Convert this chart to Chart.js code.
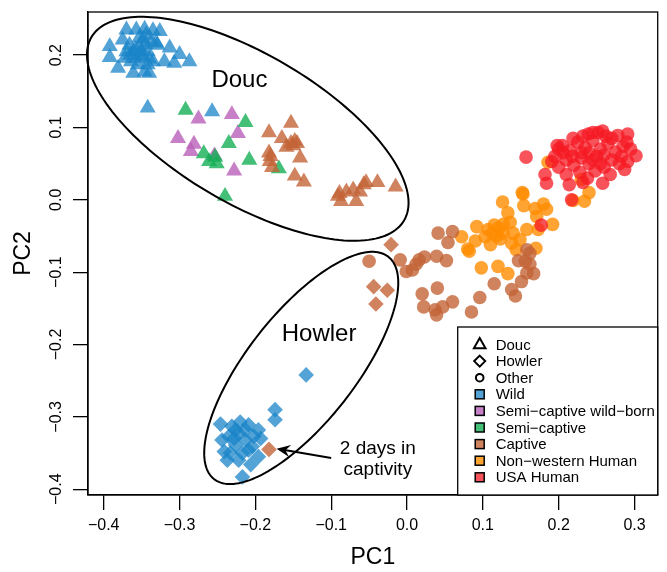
<!DOCTYPE html>
<html lang="en">
<head>
<meta charset="UTF-8">
<title>PCA – Douc / Howler / Other</title>
<script src="https://cdn.jsdelivr.net/npm/chart.js@4.4.1/dist/chart.umd.min.js"></script>
<style>
  html, body { margin: 0; padding: 0; background: #fff; }
  #wrap { width: 667px; height: 572px; }
</style>
</head>
<body>
<div id="wrap"><canvas id="pca" width="667" height="572"></canvas></div>
<script>
// ---- data (PC1, PC2) ----
const xTicks = [-0.4, -0.3, -0.2, -0.1, 0.0, 0.1, 0.2, 0.3];
const yTicks = [-0.4, -0.3, -0.2, -0.1, 0.0, 0.1, 0.2];

const doucWild = [
  [-0.370,0.235],[-0.357,0.235],[-0.346,0.236],[-0.335,0.234],[-0.326,0.233],
  [-0.392,0.212],[-0.392,0.197],[-0.381,0.182],[-0.375,0.221],[-0.370,0.205],
  [-0.364,0.191],[-0.361,0.175],[-0.353,0.212],[-0.348,0.198],[-0.346,0.177],
  [-0.340,0.175],[-0.342,0.205],[-0.331,0.217],[-0.329,0.214],[-0.335,0.191],
  [-0.313,0.210],[-0.320,0.191],[-0.307,0.189],[-0.300,0.201],[-0.287,0.191],
  [-0.357,0.196],[-0.366,0.214],[-0.353,0.224],[-0.344,0.228],[-0.337,0.219],
  [-0.361,0.205],[-0.355,0.187],[-0.342,0.187],[-0.372,0.196],[-0.350,0.205],
  [-0.345,0.215],[-0.358,0.208],[-0.340,0.195],[-0.352,0.200],[-0.365,0.200],
  [-0.348,0.222],[-0.342,0.127],[-0.257,0.122]
];
const doucSemiWildBorn = [
  [-0.275,0.112],[-0.231,0.118],[-0.223,0.092],[-0.302,0.085],
  [-0.281,0.077],[-0.285,0.067],[-0.254,0.061],[-0.228,0.040]
];
const doucSemiCaptive = [
  [-0.292,0.124],[-0.213,0.107],[-0.235,0.078],[-0.268,0.064],[-0.261,0.053],
  [-0.251,0.050],[-0.253,0.059],[-0.208,0.055],[-0.169,0.043],[-0.240,0.005]
];
const doucCaptive = [
  [-0.153,0.106],[-0.182,0.093],[-0.165,0.085],[-0.153,0.078],[-0.148,0.081],
  [-0.159,0.073],[-0.150,0.075],[-0.145,0.078],[-0.182,0.065],[-0.180,0.060],
  [-0.178,0.045],[-0.141,0.058],[-0.148,0.033],[-0.136,0.025],[-0.181,0.053],
  [-0.039,0.024],[-0.054,0.024],[-0.057,0.021],[-0.015,0.018],[-0.071,0.014],
  [-0.080,0.011],[-0.091,0.005],[-0.087,-0.002],[-0.067,-0.002],[-0.089,0.009],
  [-0.062,0.011]
];
const howlerWild = [
  [-0.174,-0.290],[-0.174,-0.304],[-0.133,-0.242],[-0.246,-0.310],[-0.231,-0.313],
  [-0.220,-0.307],[-0.209,-0.311],[-0.196,-0.318],[-0.193,-0.330],[-0.235,-0.327],
  [-0.222,-0.323],[-0.213,-0.332],[-0.226,-0.339],[-0.244,-0.332],[-0.204,-0.341],
  [-0.196,-0.355],[-0.206,-0.366],[-0.217,-0.383],[-0.237,-0.360],[-0.233,-0.350],
  [-0.217,-0.350],[-0.222,-0.360],[-0.241,-0.348],[-0.213,-0.318],[-0.226,-0.318],
  [-0.209,-0.346],[-0.228,-0.330],[-0.202,-0.327]
];
const howlerCaptive = [
  [-0.021,-0.062],[-0.044,-0.120],[-0.026,-0.125],[-0.041,-0.144],[-0.182,-0.345]
];
const otherCaptive = [
  [-0.050,-0.085],[-0.009,-0.083],[-0.001,-0.099],[0.007,-0.097],[0.016,-0.083],
  [0.023,-0.079],[0.039,-0.078],[0.052,-0.084],[0.041,-0.046],[0.060,-0.044],
  [0.054,-0.059],[0.020,-0.130],[0.040,-0.122],[0.022,-0.148],[0.037,-0.152],
  [0.047,-0.148],[0.039,-0.159],[0.060,-0.141],[0.085,-0.155],[0.096,-0.135],
  [0.115,-0.116],[0.138,-0.124],[0.143,-0.133],[0.151,-0.113],[0.158,-0.101],
  [0.167,-0.102],[0.147,-0.084],[0.156,-0.085],[0.162,-0.089],[0.158,-0.069],
  [0.162,-0.074],[0.012,-0.089]
];
const nonWesternHuman = [
  [0.153,0.008],[0.126,-0.003],[0.154,-0.008],[0.169,-0.012],[0.180,-0.006],
  [0.184,-0.013],[0.171,-0.023],[0.133,-0.018],[0.136,-0.031],[0.127,-0.034],
  [0.092,-0.037],[0.107,-0.041],[0.121,-0.039],[0.158,-0.041],[0.173,-0.041],
  [0.192,-0.034],[0.072,-0.051],[0.090,-0.057],[0.103,-0.051],[0.110,-0.062],
  [0.123,-0.054],[0.140,-0.046],[0.149,-0.055],[0.138,-0.060],[0.082,-0.071],
  [0.080,-0.068],[0.144,-0.069],[0.170,-0.067],[0.098,-0.094],[0.120,-0.092],
  [0.133,-0.102],[0.113,-0.046],[0.127,-0.046],[0.115,-0.035],[0.118,-0.050],
  [0.186,0.052],[0.230,0.028],[0.240,0.010],[0.219,-0.001],[0.234,-0.002],
  [0.152,0.010]
];
const usaHuman = [
  [0.157,0.059],[0.198,0.075],[0.219,0.085],[0.239,0.091],[0.245,0.093],
  [0.258,0.095],[0.278,0.089],[0.291,0.091],[0.302,0.061],[0.291,0.053],
  [0.287,0.042],[0.258,0.023],[0.232,0.024],[0.214,0.021],[0.184,0.023],
  [0.182,0.035],[0.191,0.053],[0.217,0.000],[0.206,0.065],[0.177,-0.035],
  [0.205,0.075],[0.215,0.068],[0.225,0.080],[0.235,0.072],[0.245,0.082],
  [0.255,0.070],[0.265,0.078],[0.275,0.066],[0.285,0.074],[0.295,0.070],
  [0.210,0.055],[0.220,0.048],[0.230,0.058],[0.240,0.050],[0.250,0.060],
  [0.260,0.045],[0.270,0.055],[0.280,0.050],[0.200,0.045],[0.195,0.060],
  [0.228,0.038],[0.248,0.040],[0.262,0.088],[0.252,0.093],[0.232,0.088],
  [0.240,0.065],[0.260,0.062],[0.270,0.085],[0.210,0.035],[0.238,0.030],
  [0.268,0.035],[0.283,0.060],[0.290,0.080],[0.218,0.060],[0.245,0.055],
  [0.255,0.050],[0.200,0.070],[0.230,0.065]
];

const shapeNames = ['Douc', 'Howler', 'Other'];
const groupNames = ['Wild', 'Semi\u2212captive wild\u2212born', 'Semi\u2212captive', 'Captive', 'Non\u2212western Human', 'USA Human'];

// ---- styles ----
const FONT = '"Liberation Sans", Arial, Helvetica, sans-serif';
const groupColors = {
  'Wild': 'rgba(25,132,200,0.75)',
  'Semi\u2212captive wild\u2212born': 'rgba(185,95,185,0.8)',
  'Semi\u2212captive': 'rgba(20,175,85,0.8)',
  'Captive': 'rgba(195,100,55,0.8)',
  'Non\u2212western Human': 'rgba(255,140,0,0.8)',
  'USA Human': 'rgba(245,25,35,0.75)'
};
const shapeStyle = {
  Douc: { pointStyle: 'triangle', radius: 9.3 },
  Howler: { pointStyle: 'rectRot', radius: 7.8 },
  Other: { pointStyle: 'circle', radius: 6.8 }
};

const xMin = -0.4207, xMax = 0.3306;
const yMin = -0.408, yMax = 0.2596;

// ellipses given as centre + two conjugate half-axes, in data units
const ellipses = [
  { cx: -0.210, cy: 0.0982, u: [0.2063, -0.1264], v: [-0.0490, -0.0894] },
  { cx: -0.1395, cy: -0.2324, u: [0.1151, 0.1535], v: [0.0559, -0.0468] }
];
const labels = [
  { text: 'Douc', x: -0.221, y: 0.165, size: 24 },
  { text: 'Howler', x: -0.116, y: -0.186, size: 24 },
  { text: '2 days in', x: -0.0385, y: -0.344, size: 19 },
  { text: 'captivity', x: -0.0385, y: -0.373, size: 19 }
];
const arrow = { from: [-0.100, -0.357], to: [-0.172, -0.344] };

function mk(label, pts, shape, group) {
  const s = shapeStyle[shape];
  return {
    label: label,
    data: pts.map(p => ({ x: p[0], y: p[1] })),
    pointStyle: s.pointStyle,
    pointRadius: s.radius,
    pointBorderWidth: 0,
    backgroundColor: groupColors[group],
    borderColor: 'rgba(0,0,0,0)'
  };
}

// first dataset ends up on top
const datasets = [
  mk('USA Human', usaHuman, 'Other', 'USA Human'),
  mk('Other captive', otherCaptive, 'Other', 'Captive'),
  mk('Non-western Human', nonWesternHuman, 'Other', 'Non\u2212western Human'),
  mk('Howler captive', howlerCaptive, 'Howler', 'Captive'),
  mk('Howler wild', howlerWild, 'Howler', 'Wild'),
  mk('Douc captive', doucCaptive, 'Douc', 'Captive'),
  mk('Douc semi-captive', doucSemiCaptive, 'Douc', 'Semi\u2212captive'),
  mk('Douc semi-captive wild-born', doucSemiWildBorn, 'Douc', 'Semi\u2212captive wild\u2212born'),
  mk('Douc wild', doucWild, 'Douc', 'Wild')
];

const fmt = v => (v < 0 ? '\u2212' : '') + Math.abs(v).toFixed(1);

function legendShape(ctx, shape, x, y) {
  ctx.beginPath();
  if (shape === 'Douc') {
    ctx.moveTo(x, y - 6.5); ctx.lineTo(x + 5.8, y + 3.8); ctx.lineTo(x - 5.8, y + 3.8); ctx.closePath();
  } else if (shape === 'Howler') {
    ctx.moveTo(x, y - 5.5); ctx.lineTo(x + 5.5, y); ctx.lineTo(x, y + 5.5); ctx.lineTo(x - 5.5, y); ctx.closePath();
  } else {
    ctx.arc(x, y, 3.8, 0, Math.PI * 2);
  }
  ctx.stroke();
}

const overlay = {
  id: 'overlay',
  afterDatasetsDraw(chart) {
    const { ctx, chartArea: a, scales: { x, y } } = chart;
    ctx.save();
    ctx.strokeStyle = '#000';
    ctx.fillStyle = '#000';

    // plot box
    ctx.lineWidth = 1.3;
    ctx.strokeRect(a.left, a.top, a.right - a.left, a.bottom - a.top);

    // ellipses
    ctx.lineWidth = 2;
    ellipses.forEach(e => {
      ctx.beginPath();
      for (let i = 0; i <= 180; i++) {
        const t = i / 180 * Math.PI * 2;
        const px = x.getPixelForValue(e.cx + e.u[0] * Math.cos(t) + e.v[0] * Math.sin(t));
        const py = y.getPixelForValue(e.cy + e.u[1] * Math.cos(t) + e.v[1] * Math.sin(t));
        if (i === 0) ctx.moveTo(px, py); else ctx.lineTo(px, py);
      }
      ctx.closePath();
      ctx.stroke();
    });

    // texts
    ctx.textAlign = 'center';
    ctx.textBaseline = 'middle';
    labels.forEach(l => {
      ctx.font = l.size + 'px ' + FONT;
      ctx.fillText(l.text, x.getPixelForValue(l.x), y.getPixelForValue(l.y));
    });

    // arrow
    const x0 = x.getPixelForValue(arrow.from[0]), y0 = y.getPixelForValue(arrow.from[1]);
    const x1 = x.getPixelForValue(arrow.to[0]), y1 = y.getPixelForValue(arrow.to[1]);
    const ang = Math.atan2(y1 - y0, x1 - x0);
    ctx.lineWidth = 2;
    ctx.beginPath();
    ctx.moveTo(x0, y0);
    ctx.lineTo(x1 - 8 * Math.cos(ang), y1 - 8 * Math.sin(ang));
    ctx.stroke();
    const hl = 15, hw = 0.42;
    ctx.beginPath();
    ctx.moveTo(x1, y1);
    ctx.lineTo(x1 - hl * Math.cos(ang - hw), y1 - hl * Math.sin(ang - hw));
    ctx.lineTo(x1 - 9 * Math.cos(ang), y1 - 9 * Math.sin(ang));
    ctx.lineTo(x1 - hl * Math.cos(ang + hw), y1 - hl * Math.sin(ang + hw));
    ctx.closePath();
    ctx.fill();

    // legend, bottom-right corner of the plot
    const lw = 200, lh = 168;
    const lx = a.right - lw, ly = a.bottom - lh;
    ctx.fillStyle = '#fff';
    ctx.fillRect(lx, ly, lw, lh);
    ctx.lineWidth = 1.3;
    ctx.strokeStyle = '#000';
    ctx.strokeRect(lx, ly, lw, lh);
    ctx.font = '15px ' + FONT;
    ctx.textAlign = 'left';
    const rows = shapeNames.map(n => ({ kind: 'shape', name: n }))
      .concat(groupNames.map(n => ({ kind: 'group', name: n })));
    rows.forEach((r, i) => {
      const cy = ly + 17.5 + i * 16.6;
      const sx = lx + 22;
      if (r.kind === 'shape') {
        ctx.lineWidth = 2;
        ctx.strokeStyle = '#000';
        legendShape(ctx, r.name, sx, cy);
      } else {
        ctx.fillStyle = '#fff';
        ctx.fillRect(sx - 4.5, cy - 4.5, 9, 9);
        ctx.fillStyle = groupColors[r.name];
        ctx.fillRect(sx - 4.5, cy - 4.5, 9, 9);
        ctx.lineWidth = 1.5;
        ctx.strokeStyle = '#000';
        ctx.strokeRect(sx - 4.5, cy - 4.5, 9, 9);
      }
      ctx.fillStyle = '#000';
      ctx.fillText(r.name, lx + 38, cy + 1);
    });
    ctx.restore();
  }
};

Chart.defaults.font.family = FONT;
Chart.defaults.color = '#000';

new Chart(document.getElementById('pca'), {
  type: 'scatter',
  data: { datasets: datasets },
  options: {
    responsive: false,
    animation: false,
    events: [],
    layout: { padding: { top: 12, right: 5, left: 0, bottom: 0 } },
    plugins: {
      legend: { display: false },
      tooltip: { enabled: false }
    },
    scales: {
      x: {
        type: 'linear',
        min: xMin,
        max: xMax,
        afterBuildTicks: s => { s.ticks = xTicks.map(v => ({ value: v })); },
        afterFit: s => { s.height = 77; },
        ticks: { callback: fmt, font: { size: 16 }, color: '#000', padding: 6, maxRotation: 0, autoSkip: false },
        grid: { display: true, drawOnChartArea: false, drawTicks: true, tickLength: 15, color: '#000', lineWidth: 1.3 },
        border: { display: true, color: '#000', width: 1.3 },
        title: { display: true, text: 'PC1', font: { size: 23 }, color: '#000', padding: { top: 0, bottom: 1 } }
      },
      y: {
        type: 'linear',
        min: yMin,
        max: yMax,
        afterBuildTicks: s => { s.ticks = yTicks.map(v => ({ value: v })); },
        afterFit: s => { s.width = 88; },
        ticks: { callback: fmt, font: { size: 16 }, color: '#000', padding: 1, minRotation: 90, maxRotation: 90, crossAlign: 'center', autoSkip: false },
        grid: { display: true, drawOnChartArea: false, drawTicks: true, tickLength: 15, color: '#000', lineWidth: 1.3 },
        border: { display: true, color: '#000', width: 1.3 },
        title: { display: true, text: 'PC2', font: { size: 23 }, color: '#000', padding: { top: 10, bottom: 0 } }
      }
    }
  },
  plugins: [overlay]
});
</script>
</body>
</html>
